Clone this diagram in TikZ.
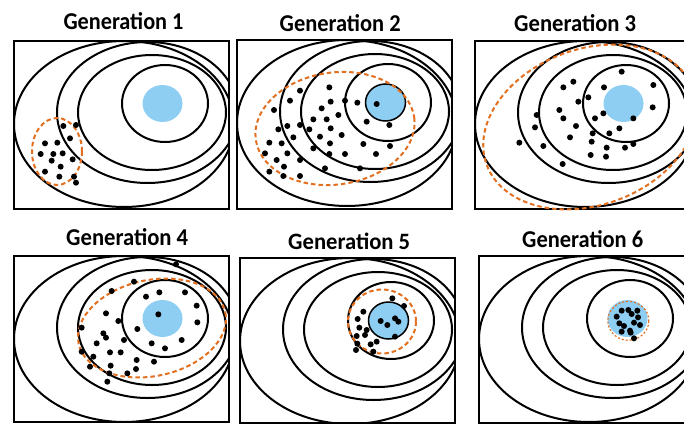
\documentclass[tikz,border=0pt]{standalone}
\usepackage{fontspec}
\setmainfont{Carlito}
\definecolor{goalblue}{RGB}{142,206,243}
\definecolor{orng}{RGB}{226,112,32}
\tikzset{
  ring/.style={line width=2pt, draw=black},
  frame/.style={line width=2pt, draw=black},
  goal/.style={fill=goalblue},
  spread/.style={draw=orng, line width=2pt, dash pattern=on 4.5pt off 3pt},
  pop/.style={fill=black},
  title/.style={anchor=base west, inner sep=0pt},
}
% #1,#2 = top-left corner of the panel box, #3 = box height, #4 = outline of the goal
\newcommand\gpanel[4]{%
  \begin{scope}[shift={(#1,#2)}]
    \begin{scope}
      \clip (0,0) rectangle (215,#3);
      \fill[goal] (148.5,62.5) ellipse [x radius=20, y radius=18.5];
      \ifx#4y\draw[line width=1.5pt] (148.5,62.5) ellipse [x radius=20, y radius=18.5];\fi
      \draw[ring] (110,83) ellipse [x radius=110, y radius=83];
      \draw[ring] (133.5,71.5) ellipse [x radius=90.5, y radius=70.5];
      \draw[ring] (138,71.5) ellipse [x radius=74, y radius=57.5];
      \draw[ring] (151,62.5) ellipse [x radius=43, y radius=38.5];
    \end{scope}
    \draw[frame] (0,0) rectangle (215,#3);
  \end{scope}}
\begin{document}
\begin{tikzpicture}[x=1pt,y=-1pt]
\useasboundingbox (0,0) rectangle (684,423);
\clip (0,0) rectangle (684,423);
\fill[white] (0,0) rectangle (684,423);

% titles
\node[title] (t1) at (63.3,30) {\resizebox{120pt}{17pt}{\bfseries Generation 1}};
\node[title] (t2) at (279.5,31.5) {\resizebox{121pt}{17pt}{\bfseries Generation 2}};
\node[title] (t3) at (514,31.5) {\resizebox{122pt}{17pt}{\bfseries Generation 3}};
\node[title] (t4) at (66,245.5) {\resizebox{122pt}{17pt}{\bfseries Generation 4}};
\node[title] (t5) at (288,249) {\resizebox{122pt}{16.5pt}{\bfseries Generation 5}};
\node[title] (t6) at (522,247.5) {\resizebox{121pt}{17pt}{\bfseries Generation 6}};

% panels
\gpanel{14}{41}{168}{n}
\gpanel{237}{40}{169}{y}
\gpanel{475}{41}{168}{n}
\gpanel{14}{256}{166}{n}
\gpanel{240}{258}{165}{y}
\gpanel{479}{256}{167}{n}

% spread of each generation
\draw[spread] (57,151.5) ellipse [x radius=25, y radius=33.5];
\draw[spread, rotate around={8:(335,128.5)}] (335,128.5) ellipse [x radius=80, y radius=56];
\draw[spread, rotate around={20:(590,127)}] (590,127) ellipse [x radius=110, y radius=78];
\draw[spread, rotate around={12:(152,328)}] (152,328) ellipse [x radius=75, y radius=48];
\draw[spread] (382,321.5) ellipse [x radius=34, y radius=32];
\draw[spread, line width=1.2pt, dash pattern=on 2pt off 2pt] (628.3,320.8) ellipse [x radius=20.5, y radius=19.5];

% populations (coordinates in 3x zoom units)
\begin{scope}[shift={(0,0)}]
\foreach \a/\b in {190/378,228/375,210/415,172/428,135/430,122/462,160/462,188/460,218/478,155/482,182/500,135/515,178/530,222/530,228/548}
  \fill[pop] ({\a/3},{\b/3}) circle[radius=3];
\end{scope}
\begin{scope}[shift={(230,0)}]
\foreach \a/\b in {298/262,210/272,180/302,302/305,345/302,382/308,440/312,275/325,132/330,325/345,250/358,290/358,210/375,172/378,145/388,238/388,302/385,410/365,478/375,335/405,190/412,270/410,155/430,118/428,300/430,400/432,480/438,105/460,172/460,250/445,298/462,345/462,438/462,140/480,210/480,162/500,118/515,285/505,390/505,160/528,210/528}
  \fill[pop] ({\a/3},{\b/3}) circle[radius=3];
\end{scope}
\begin{scope}[shift={(460,0)}]
\foreach \a/\b in {485/215,340/245,310/262,432/262,580/255,385/292,355/305,298/330,230/345,430/340,578/322,310/355,405/355,225/382,348/378,478/385,520/355,398/400,448/400,330/412,178/428,250/438,395/425,520/432,440/443,495/443,392/465,438/470,308/492}
  \fill[pop] ({\a/3},{\b/3}) circle[radius=3];
\end{scope}
\begin{scope}[shift={(0,215)}]
\foreach \a/\b in {528/148,402/200,335/228,438/245,478/232,555/232,590/272,318/295,475/298,355/318,592/322,245/338,412/342,310/355,318/368,290/385,372/375,455/385,495/400,545/375,245/410,330/412,362/412,410/435,462/440,280/425,270/455,332/452,408/462,328/475,382/475,322/500}
  \fill[pop] ({\a/3},{\b/3}) circle[radius=3];
\end{scope}
\begin{scope}[shift={(230,215)}]
\foreach \a/\b in {487/250,522/273,400/290,383/312,452/318,472/330,495/310,505/320,388/338,410/345,380/363,405/360,440/380,495/365,382/386,422/388,378/405,430/410}
  \fill[pop] ({\a/3},{\b/3}) circle[radius=3];
\end{scope}
\begin{scope}[shift={(560,270)}]
\foreach \a/\b in {170/140,185/122,205/120,178/160,192/168,210/182,215/132,232/122,234/142,222/158,240/165,212/188,222/205,185/185}
  \fill[pop] ({\a/3},{\b/3}) circle[radius=3];
\end{scope}
\end{tikzpicture}
\end{document}
